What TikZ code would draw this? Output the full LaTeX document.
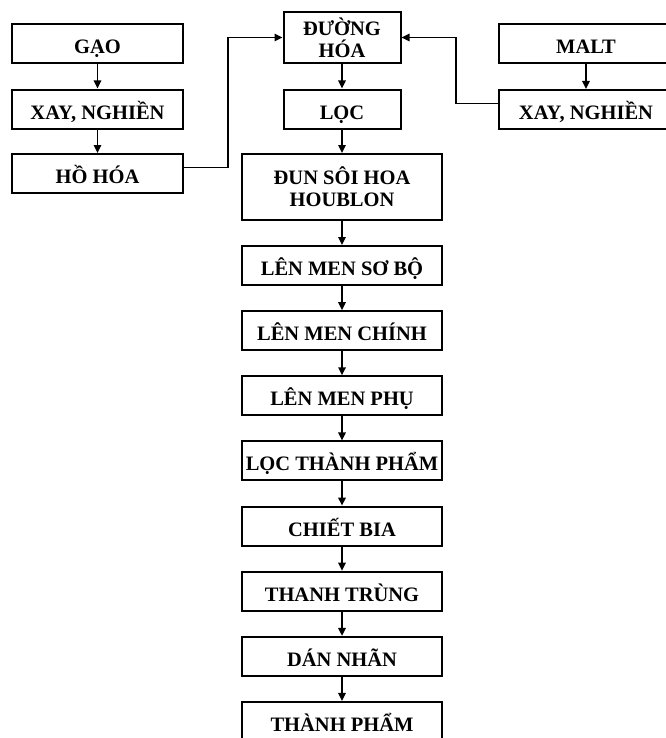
\documentclass[tikz,border=0pt]{standalone}
\usepackage{fontspec}
\setmainfont{Liberation Serif}
\usepackage{tikz}
\usetikzlibrary{arrows.meta}

\begin{document}
\begin{tikzpicture}[x=1bp, y=-1bp,
    box/.style={draw, line width=2bp, inner sep=0pt, align=center,
      font=\bfseries\fontsize{20.5bp}{22bp}\selectfont,
      text height=20bp, text depth=0bp, minimum height=39bp},
    twoline/.style={text height=, text depth=},
    side/.style={box, minimum width=171bp},
    narrow/.style={box, minimum width=117bp},
    wide/.style={box, minimum width=200bp},
    arr/.style={-{Triangle[length=8bp, width=7.5bp]}, line width=1.6bp}]
  \clip (0,0) rectangle (666,738);
  \node[side] (gao) at (97.5,43.5) {GẠO};
  \node[side] (xayg) at (97.5,109) {XAY, NGHIỀN};
  \node[side] (hohoa) at (97.5,173.5) {HỒ HÓA};
  \node[side, minimum width=174bp] (malt) at (586,43.5) {MALT};
  \node[side, minimum width=174bp] (xaym) at (586,109.5) {XAY, NGHIỀN};
  \node[narrow, twoline, minimum height=51bp] (duong) at (342,37.5) {ĐƯỜNG\\HÓA};
  \node[narrow] (loc) at (342,109) {LỌC};
  \node[wide, twoline, minimum height=66bp] (dunsoi) at (342,187) {ĐUN SÔI HOA\\HOUBLON};
  \foreach \name/\txt [count=\i from 0] in {sobo/LÊN MEN SƠ BỘ, chinh/LÊN MEN CHÍNH,
      phu/LÊN MEN PHỤ, locbia/LỌC THÀNH PHẨM, chiet/CHIẾT BIA,
      thanhtrung/THANH TRÙNG, dannhan/DÁN NHÃN, thanhpham/THÀNH PHẨM}
    \node[wide] (\name) at (342,265.5+65.14*\i) {\txt};
  \foreach \a/\b in {gao/xayg, xayg/hohoa, malt/xaym, duong/loc, loc/dunsoi,
      dunsoi/sobo, sobo/chinh, chinh/phu, phu/locbia, locbia/chiet,
      chiet/thanhtrung, thanhtrung/dannhan, dannhan/thanhpham}
    \draw[arr] (\a) -- (\b);
  \draw[arr] ([yshift=6bp]hohoa.east) -- ++(44,0) |- (duong.west);
  \draw[arr] ([yshift=6bp]xaym.west) -- ++(-42,0) |- (duong.east);
\end{tikzpicture}
\end{document}
